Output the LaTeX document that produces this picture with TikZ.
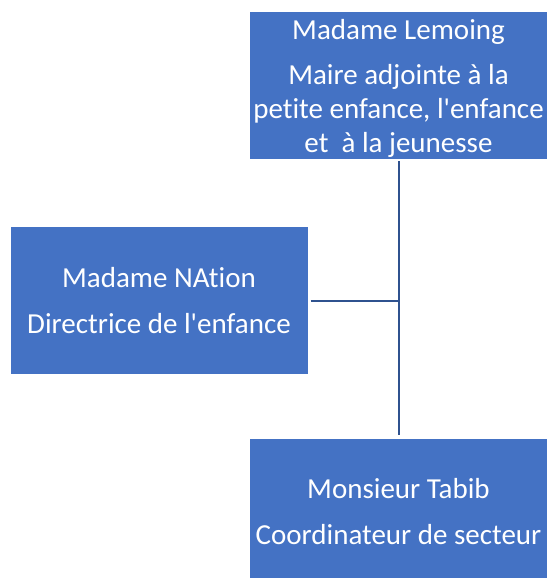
\documentclass[tikz,border=0pt]{standalone}
\usepackage{fontspec}
\setmainfont{Carlito}[Ligatures=NoCommon]
\usetikzlibrary{calc}
\definecolor{boxblue}{HTML}{4472C4}
\definecolor{lineblue}{HTML}{2F528F}

\begin{document}
\begin{tikzpicture}[x=1pt,y=-1pt,
  person/.style={fill=boxblue,text=white,align=center,minimum width=297pt,
    minimum height=147pt,inner sep=0pt,font=\fontsize{29}{34}\selectfont},
  link/.style={draw=lineblue,line width=2pt}]
\useasboundingbox (0,0) rectangle (549,578);
\node [person] (lemoing) at (398.5,85.5) {\rule{0pt}{26pt}Madame Lemoing\\[11pt]Maire adjointe à la\\petite enfance, l\textquotesingle enfance\\et~ à la jeunesse};
\node [person] (nation) at (159,300.5) {Madame NAtion\\[12pt]Directrice de l\textquotesingle enfance};
\node [person] (tabib) at (398.5,512) {Monsieur Tabib\\[12pt]Coordinateur de secteur};
\coordinate (junction) at (399,300.5);
\draw [link] ($(lemoing.south)+(0.5,2)$) -- ($(tabib.north)+(0.5,-3)$);
\draw [link] ($(nation.east)+(3,0)$) -- (junction);
\end{tikzpicture}
\end{document}
